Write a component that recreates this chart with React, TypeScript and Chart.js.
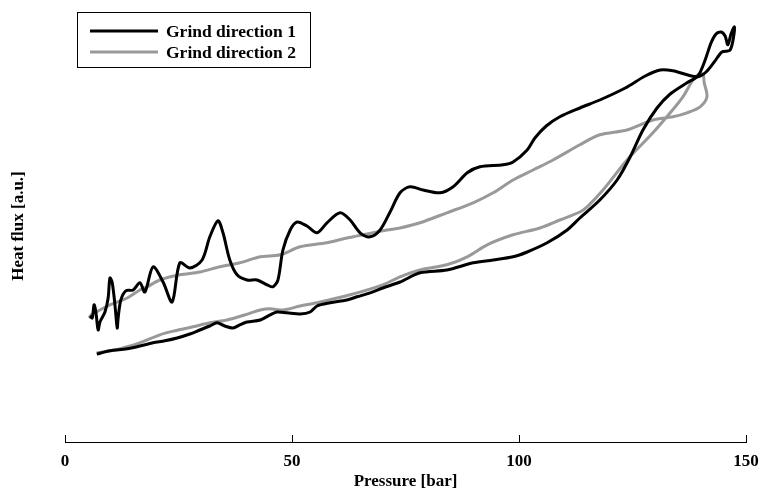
import React, { useEffect, useRef } from "react";
import { Chart, registerables } from "chart.js";

Chart.register(...registerables);

// Grind direction 1: [pressure (bar), heat flux (a.u.)], loading branch then unloading branch
const grindDirection1: [number, number][] = [
  [7.0, 22.0], [9.9, 22.8], [13.7, 23.3], [16.5, 24.0], [19.4, 24.8], [22.0, 25.3], [24.7, 26.0],
  [27.5, 27.0], [29.7, 28.0], [31.9, 29.0], [33.5, 29.8], [35.2, 29.0], [37.0, 28.5], [38.5, 29.3],
  [40.1, 30.0], [43.0, 30.5], [45.2, 31.8], [46.7, 32.5], [48.9, 32.3], [51.8, 32.0], [54.0, 32.5],
  [55.5, 34.0], [58.4, 34.8], [62.1, 35.5], [64.3, 36.3], [67.2, 37.3], [70.0, 38.5], [73.8, 40.0],
  [78.2, 42.3], [84.1, 43.0], [89.9, 44.8], [94.3, 45.5], [98.7, 46.3], [101.8, 47.5], [106.2, 49.8],
  [110.6, 53.0], [113.4, 56.0], [117.8, 60.5], [121.6, 65.5], [124.5, 71.3], [127.3, 78.0],
  [130.4, 83.5], [133.3, 87.0], [137.0, 89.8], [139.4, 91.5], [141.0, 95.5], [142.3, 99.8],
  [143.4, 102.0], [144.5, 102.5], [145.4, 101.5], [146.0, 99.3], [146.7, 102.0], [147.4, 103.8],
  [147.4, 102.3], [146.5, 98.0],
  [144.7, 97.5], [143.0, 95.0], [141.2, 92.5], [139.4, 91.3], [137.0, 91.8], [133.9, 92.8],
  [131.1, 93.0], [127.8, 91.5], [123.4, 88.5], [117.8, 85.5], [113.4, 83.5], [109.0, 81.3],
  [106.0, 79.0], [103.5, 76.0], [101.8, 73.0], [98.7, 70.0], [96.5, 69.3], [91.4, 68.8],
  [88.6, 67.3], [85.5, 63.8], [82.6, 62.3], [78.9, 63.0], [76.0, 63.8], [73.8, 62.3], [71.6, 57.5],
  [69.4, 53.0], [67.2, 51.3], [65.0, 52.3], [62.8, 55.5], [60.6, 57.3], [57.7, 54.8], [55.5, 52.3],
  [53.3, 54.0], [51.1, 55.0], [49.6, 53.0], [48.0, 48.0], [46.9, 40.5], [45.8, 38.8], [44.5, 39.3],
  [42.3, 40.5], [40.1, 40.5], [37.9, 41.8], [36.3, 45.5], [34.8, 52.3], [33.7, 55.3], [31.9, 51.3],
  [30.2, 45.5], [27.5, 43.5], [25.3, 44.8], [23.6, 35.0], [21.6, 40.0], [19.4, 43.8], [17.6, 37.5],
  [16.5, 39.8], [15.0, 38.0], [13.4, 37.8], [12.3, 35.5], [11.7, 31.0], [11.5, 28.5], [11.0, 34.3],
  [10.4, 39.8], [9.9, 41.0], [9.5, 36.0], [8.8, 32.5], [7.7, 30.0], [7.3, 28.0], [6.8, 32.5],
  [6.4, 34.3], [6.0, 31.0], [5.5, 31.5],
];

// Grind direction 2
const grindDirection2: [number, number][] = [
  [7.0, 22.3], [8.4, 22.5], [11.0, 23.0], [13.7, 23.8], [16.5, 24.8], [20.9, 26.8], [24.2, 27.8],
  [28.2, 28.8], [31.9, 29.8], [35.7, 30.5], [39.7, 31.8], [43.0, 33.0], [45.2, 33.3], [48.0, 33.0],
  [51.8, 34.0], [55.5, 34.8], [62.8, 36.8], [70.0, 39.3], [73.8, 41.3], [78.2, 43.0], [84.1, 44.3],
  [88.6, 46.3], [93.0, 49.3], [98.7, 51.8], [104.6, 53.5], [109.0, 55.5], [113.4, 57.5],
  [115.0, 58.8], [118.5, 63.0], [123.8, 70.5], [129.5, 77.3], [133.3, 82.3], [136.1, 86.3],
  [138.3, 90.5], [139.4, 91.8], [140.5, 92.0], [140.8, 89.8], [141.4, 86.3], [139.9, 83.8],
  [137.0, 82.3], [133.9, 81.3], [129.5, 80.5], [123.8, 78.0], [117.8, 76.8], [113.4, 74.3],
  [107.5, 70.5], [103.1, 68.0], [98.7, 65.5], [94.3, 62.3], [89.9, 59.8], [84.1, 57.3],
  [78.2, 54.8], [73.8, 53.5], [70.9, 53.0], [66.5, 52.0], [62.1, 51.0], [57.7, 49.8], [51.8, 48.8],
  [47.4, 46.8], [43.0, 46.3], [38.5, 44.8], [34.1, 43.8], [29.7, 42.5], [25.3, 41.8], [20.9, 40.5],
  [18.1, 38.8], [16.5, 38.0], [13.7, 36.0], [9.9, 34.3], [7.7, 33.0], [6.0, 32.0], [5.3, 31.0],
];

const seriesLabels = ["Grind direction 1", "Grind direction 2"];
const seriesColors = ["#000000", "#999999"];
const xTicks = [0, 50, 100, 150];
const xTitle = "Pressure [bar]";
const yTitle = "Heat flux [a.u.]";

const FONT = "'Liberation Serif', 'Times New Roman', serif";

const legendPlugin = {
  id: "boxLegend",
  afterDraw(chart: any) {
    const ctx = chart.ctx;
    ctx.save();
    ctx.strokeStyle = "#000";
    ctx.lineWidth = 1;
    ctx.strokeRect(77.5, 12.5, 233, 55);
    ctx.font = `bold 17.5px ${FONT}`;
    ctx.textBaseline = "middle";
    ctx.textAlign = "left";
    seriesLabels.forEach((lab, i) => {
      const y = 31 + i * 21;
      ctx.strokeStyle = seriesColors[i];
      ctx.lineWidth = 3;
      ctx.beginPath();
      ctx.moveTo(90, y);
      ctx.lineTo(158, y);
      ctx.stroke();
      ctx.fillStyle = "#000";
      ctx.fillText(lab, 166, y + 1);
    });
    ctx.restore();
  },
};

export default function App() {
  const ref = useRef<HTMLCanvasElement | null>(null);
  useEffect(() => {
    if (!ref.current) return;
    const toPts = (arr: [number, number][]) => arr.map(([x, y]) => ({ x, y }));
    const chart = new Chart(ref.current, {
      type: "scatter",
      data: {
        datasets: [grindDirection1, grindDirection2].map((d, i) => ({
          label: seriesLabels[i],
          data: toPts(d),
          showLine: true,
          borderColor: seriesColors[i],
          backgroundColor: seriesColors[i],
          borderWidth: 3,
          pointRadius: 0,
          tension: 0.3,
        })),
      },
      options: {
        responsive: false,
        animation: false,
        layout: { padding: { left: 8, right: 16, top: 10, bottom: 0 } },
        plugins: { legend: { display: false }, tooltip: { enabled: false } },
        scales: {
          x: {
            type: "linear",
            min: 0,
            max: 150,
            afterFit: (s: any) => { s.height = 51; s.paddingLeft = 0; s.paddingRight = 0; },
            afterBuildTicks: (s: any) => { s.ticks = xTicks.map((v) => ({ value: v })); },
            ticks: { color: "#000", font: { family: FONT, size: 17, weight: "bold" }, padding: 16, maxRotation: 0 },
            grid: { display: true, drawOnChartArea: false, drawTicks: true, tickLength: -7, color: "#000", lineWidth: 1 },
            border: { display: true, color: "#000", width: 1 },
            title: { display: true, text: xTitle, color: "#000", font: { family: FONT, size: 17, weight: "bold" }, padding: { top: 0, bottom: 1 } },
          },
          y: {
            type: "linear",
            min: 0,
            max: 108,
            afterFit: (s: any) => { s.width = 57; },
            ticks: { display: false },
            grid: { display: false },
            border: { display: false },
            title: { display: true, text: yTitle, color: "#000", font: { family: FONT, size: 17, weight: "bold" }, padding: { top: 0, bottom: 0 } },
          },
        },
      },
      plugins: [legendPlugin],
    } as any);
    return () => chart.destroy();
  }, []);
  return (
    <canvas
      ref={ref}
      width={762}
      height={493}
      style={{ position: "fixed", left: 0, top: 0, display: "block" }}
    />
  );
}
